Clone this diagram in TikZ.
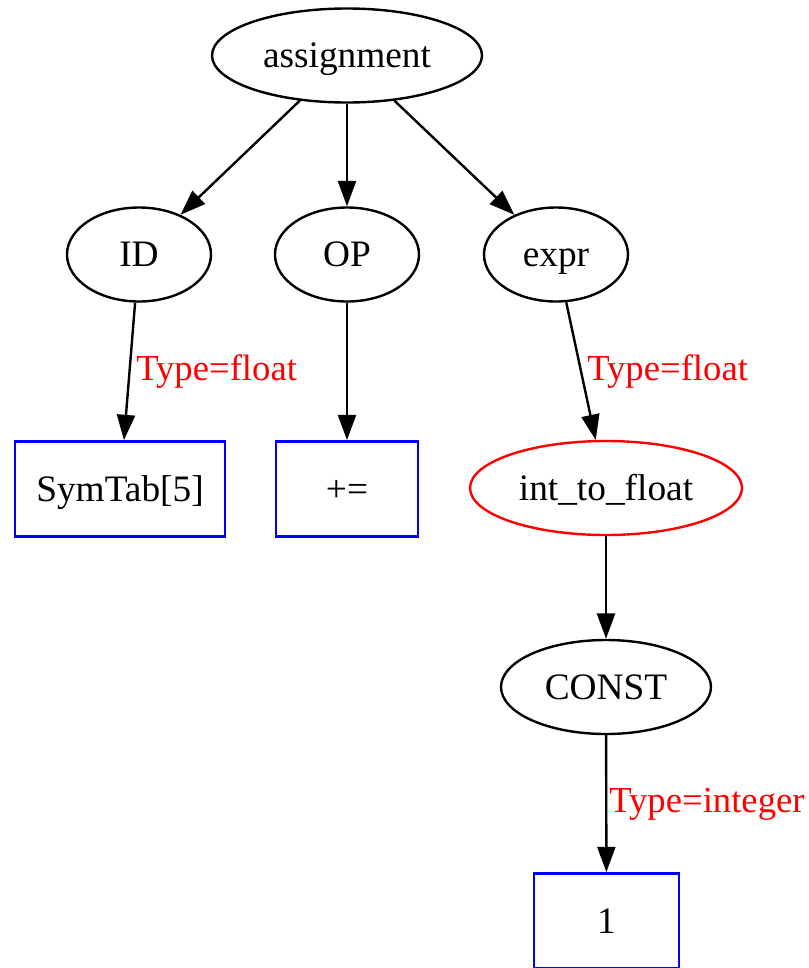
\documentclass[tikz,border=0pt]{standalone}
\usepackage{fontspec}
\setmainfont{Liberation Serif}
\usetikzlibrary{arrows.meta,shapes.geometric}
\tikzset{
  gvtext/.style={font=\fontsize{28}{33}\selectfont},
  ell/.style={ellipse,draw=black,line width=1.8pt,inner sep=0pt,gvtext,text height=18pt,text depth=0pt,minimum height=70.5pt},
  redell/.style={ell,draw=red},
  bluebox/.style={rectangle,draw=blue,line width=1.8pt,inner sep=0pt,gvtext,text height=18pt,text depth=0pt,minimum height=71.5pt},
  elabel/.style={text=red,font=\fontsize{27.5}{33}\selectfont,anchor=west,inner sep=0pt},
  gvedge/.style={line width=1.8pt,-{Triangle[length=19pt,width=13.5pt]}}
}
\begin{document}
\begin{tikzpicture}[x=0.75pt,y=-0.75pt]
\useasboundingbox (0,0) rectangle (808,968);
\node[ell,minimum width=202.5pt] (asg) at (347,55.5) {assignment};
\node[ell,minimum width=108pt] (id) at (139,254.5) {ID};
\node[ell,minimum width=108pt] (op) at (347,254.5) {OP};
\node[ell,minimum width=108pt] (expr) at (556,254.5) {expr};
\node[bluebox,minimum width=157.5pt] (sym) at (120,489) {SymTab[5]};
\node[bluebox,minimum width=106.5pt] (pe) at (347,489) {+=};
\node[redell,minimum width=204pt] (itf) at (606,488) {int\_to\_float};
\node[ell,minimum width=157.5pt] (const) at (606,687) {CONST};
\node[bluebox,minimum width=108.5pt] (one) at (606.5,921) {1};
\draw[gvedge] (asg) -- (id);
\draw[gvedge] (asg) -- (op);
\draw[gvedge] (asg) -- (expr);
\draw[gvedge] (id) -- (sym);
\draw[gvedge] (op) -- (pe);
\draw[gvedge] (expr) -- (itf);
\draw[gvedge] (itf) -- (const);
\draw[gvedge] (const) -- (one);
\node[elabel] (l1) at (136,372) {Type=float};
\node[elabel] (l2) at (587,372) {Type=float};
\node[elabel] (l3) at (609,804) {Type=integer};
\end{tikzpicture}
\end{document}
